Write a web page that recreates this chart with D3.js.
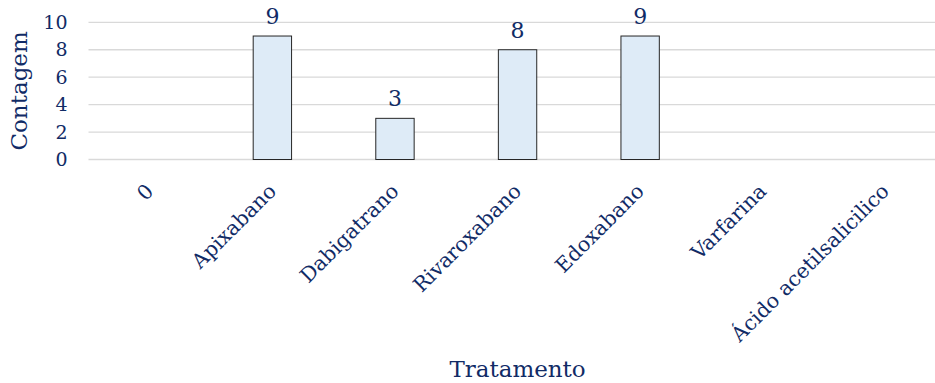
<!DOCTYPE html>
<html>
<head>
<meta charset="utf-8">
<script src="https://cdn.jsdelivr.net/npm/d3@7"></script>
<style>
  html, body { margin: 0; padding: 0; background: #ffffff; }
  svg { display: block; }
  text { font-family: "DejaVu Serif", Georgia, serif; fill: #112b66; }
</style>
</head>
<body>
<svg id="chart" width="935" height="383"></svg>
<script>
// Treatment categories and patient counts
const categories = ["0", "Apixabano", "Dabigatrano", "Rivaroxabano", "Edoxabano", "Varfarina", "Ácido acetilsalicilico"];
const counts = [0, 9, 3, 8, 9, 0, 0];
const yTicks = [0, 2, 4, 6, 8, 10];
const yTitle = "Contagem";
const xTitle = "Tratamento";

const svg = d3.select("#chart");
const plot = { left: 88.5, right: 946.6, top: 22.3, bottom: 159.5 };

const x = d3.scaleBand()
  .domain(categories)
  .range([plot.left, plot.right])
  .paddingInner(0.687)
  .paddingOuter(0.687 / 2);

const y = d3.scaleLinear()
  .domain([0, 10])
  .range([plot.bottom, plot.top]);

// Horizontal gridlines
svg.append("g")
  .selectAll("line")
  .data(yTicks)
  .join("line")
  .attr("x1", plot.left)
  .attr("x2", plot.right)
  .attr("y1", d => y(d))
  .attr("y2", d => y(d))
  .attr("stroke", "#d9d9d9")
  .attr("stroke-width", 1.3);

// Y axis labels
const yAxis = svg.append("g")
  .attr("transform", `translate(${plot.left},0)`)
  .call(d3.axisLeft(y).tickValues(yTicks).tickSize(0).tickPadding(21).tickFormat(d3.format("d")));
yAxis.select(".domain").remove();
yAxis.selectAll("text")
  .style("font-family", '"DejaVu Serif", Georgia, serif')
  .style("font-size", "19px")
  .attr("fill", "#112b66");

// Bars
const rows = categories.map((c, i) => ({ cat: c, value: counts[i] }));
svg.append("g")
  .selectAll("rect")
  .data(rows.filter(d => d.value > 0))
  .join("rect")
  .attr("x", d => x(d.cat))
  .attr("y", d => y(d.value))
  .attr("width", x.bandwidth())
  .attr("height", d => y(0) - y(d.value))
  .attr("fill", "#deebf7")
  .attr("stroke", "#262626")
  .attr("stroke-width", 1);

// Value labels above bars
svg.append("g")
  .selectAll("text")
  .data(rows.filter(d => d.value > 0))
  .join("text")
  .attr("x", d => x(d.cat) + x.bandwidth() / 2)
  .attr("y", d => y(d.value) - 12)
  .attr("text-anchor", "middle")
  .style("font-size", "22px")
  .text(d => d.value);

// X axis category labels, rotated
const xAxis = svg.append("g")
  .attr("transform", `translate(0,${plot.bottom})`)
  .call(d3.axisBottom(x).tickSize(0).tickPadding(0));
xAxis.select(".domain").remove();
xAxis.selectAll("text")
  .style("font-family", '"DejaVu Serif", Georgia, serif')
  .style("font-size", "20.5px")
  .attr("fill", "#112b66")
  .attr("text-anchor", "end")
  .attr("x", 0)
  .attr("y", 0)
  .attr("dy", 0)
  .attr("transform", "translate(5,33) rotate(-45)");

// Axis titles
svg.append("text")
  .attr("transform", `translate(27,${(plot.top + plot.bottom) / 2}) rotate(-90)`)
  .attr("text-anchor", "middle")
  .style("font-size", "23px")
  .text(yTitle);

svg.append("text")
  .attr("x", (plot.left + plot.right) / 2)
  .attr("y", 377)
  .attr("text-anchor", "middle")
  .style("font-size", "23px")
  .text(xTitle);
</script>
</body>
</html>
